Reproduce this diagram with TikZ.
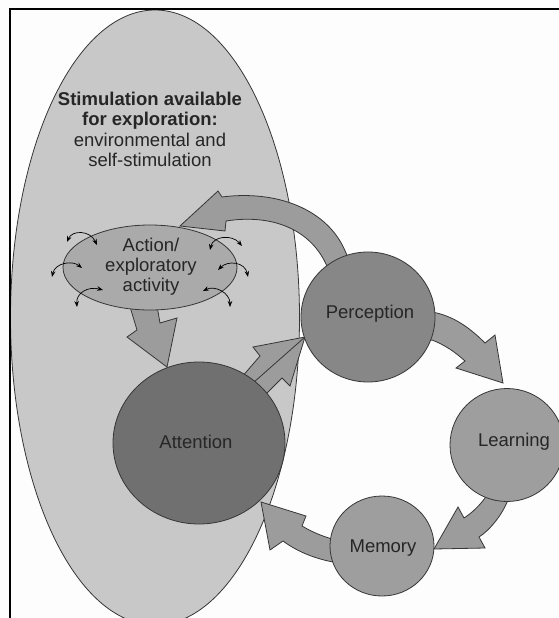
\documentclass[tikz,border=0pt]{standalone}
\usepackage{fontspec}
\setmainfont{Liberation Sans}
\usetikzlibrary{shapes.geometric,arrows.meta}
\definecolor{bgc}{HTML}{FDFDFD}
\definecolor{stimc}{HTML}{C8C8C8}
\definecolor{actc}{HTML}{AAAAAA}
\definecolor{attc}{HTML}{707070}
\definecolor{perc}{HTML}{878787}
\definecolor{learnc}{HTML}{9E9E9E}
\definecolor{arrc}{HTML}{9C9C9C}
\definecolor{edgec}{HTML}{363636}
\definecolor{txtc}{HTML}{262626}
\begin{document}
\begin{tikzpicture}[x=1pt,y=-1pt,
  txt/.style={text=txtc,font=\fontsize{18.5}{20.5}\selectfont,align=center,inner sep=0pt},
  blob/.style={ellipse,draw=edgec,line width=0.8pt,inner sep=0pt},
  blockarrow/.style={fill=arrc,draw=edgec,line width=0.8pt,line join=miter},
  tinyarrow/.style={line width=0.7pt,black,{Stealth[length=6pt,width=4.5pt]}-{Stealth[length=6pt,width=4.5pt]}}]

\useasboundingbox (0,0) rectangle (558,618);
\fill[bgc] (0,0) rectangle (558,618);

% large field of stimulation
\node[blob,fill=stimc,minimum width=289pt,minimum height=615pt] (stim) at (155,317.5) {};
\node[txt] (stimtext) at (150,129.5) {\textbf{Stimulation available}\\\textbf{for exploration:}\\environmental and\\self-stimulation};

% block arrows (drawn beneath the nodes)
% Perception -> Action
\draw[blockarrow] (330,272) -- (325,262) .. controls (308,228) and (270,214) .. (226,221)
  -- (225,231) -- (180,226) -- (218,191) -- (222,197)
  .. controls (275,190) and (328,208) .. (346,253) -- (352,266) -- cycle;
% Action -> Attention
\draw[blockarrow] (128,300) -- (137,330) -- (127,337) -- (167,367) -- (177,318) -- (160,323) -- (156,300) -- cycle;
% Attention -> Perception
\draw[blockarrow] (235,385) -- (260,356) -- (253,347) -- (305,337) -- (290,386) -- (282,378) -- (255,405) -- cycle;
\draw[draw=edgec,line width=0.8pt] (245,390) -- (305,337);
% Perception -> Learning
\draw[blockarrow] (424,310) -- (432,312) .. controls (455,316) and (472,330) .. (485,343)
  -- (495,335) -- (503,383) -- (456,368) -- (465,361)
  .. controls (455,352) and (445,345) .. (432,340) -- (424,342) -- cycle;
% Learning -> Memory
\draw[blockarrow] (512,488) -- (508,500) .. controls (502,515) and (490,530) .. (479,537)
  -- (485,548) -- (434,549) -- (458,507) -- (464,518)
  .. controls (472,513) and (480,505) .. (485,498) -- (487,488) -- cycle;
% Memory -> Attention
\draw[blockarrow] (342,538) -- (332,539) .. controls (322,536) and (312,532) .. (302,526)
  -- (306,516) -- (261,502) -- (270,550) -- (283,541)
  .. controls (295,550) and (312,558) .. (333,562) -- (342,562) -- cycle;

% nodes
\node[blob,fill=actc,minimum width=174pt,minimum height=85pt] (act) at (150,267.5) {};
\node[txt] (acttext) at (151,267) {Action/\\[-0.5pt]exploratory\\[-0.5pt]activity};
\node[blob,fill=attc,minimum width=172pt,minimum height=162pt] (att) at (199,443) {};
\node[txt] at (196,442) {Attention};
\node[blob,fill=perc,minimum width=134pt,minimum height=130pt] (per) at (368,317) {};
\node[txt] at (370,314) {Perception};
\node[blob,fill=learnc,minimum width=114pt,minimum height=113pt] (learn) at (507,445) {};
\node[txt] at (514,442) {Learning};
\node[blob,fill=learnc,minimum width=104pt,minimum height=100pt] (mem) at (382,546) {};
\node[txt] at (383,548) {Memory};

% small exploratory arrows
\draw[tinyarrow] (67,242) .. controls (72,230) and (90,230) .. (97,245);
\draw[tinyarrow] (52,277) .. controls (55,263) and (72,260) .. (82,268);
\draw[tinyarrow] (77,307) .. controls (76,293) and (88,286) .. (103,290);
\draw[tinyarrow] (210,250) .. controls (213,236) and (232,234) .. (242,246);
\draw[tinyarrow] (218,270) .. controls (228,260) and (245,262) .. (248,277);
\draw[tinyarrow] (203,291) .. controls (215,285) and (230,293) .. (230,307);

% frame
\draw[line width=2pt,black] (9.5,620) -- (9.5,9.5) -- (560,9.5);
\end{tikzpicture}
\end{document}
